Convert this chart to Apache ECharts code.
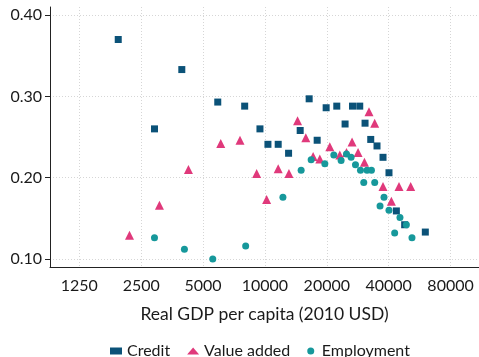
<!DOCTYPE html>
<html>
<head>
<meta charset="utf-8">
<script src="https://cdn.jsdelivr.net/npm/echarts@6/dist/echarts.min.js"></script>
<style>
html,body{margin:0;padding:0;background:#fff;}
#chart{width:479px;height:357px;}
</style>
</head>
<body>
<div id="chart"></div>
<script>
// Real GDP per capita (2010 USD) and shares
const creditGdp = [1933, 2901, 3940, 5894, 7969, 9456, 10340, 11600, 13030, 14840, 16410, 17950, 19850, 22360, 24540, 26660, 28920, 30690, 32710, 35090, 37530, 40130, 43590, 47830, 60290];
const creditVal = [0.370, 0.260, 0.333, 0.293, 0.288, 0.260, 0.241, 0.241, 0.230, 0.258, 0.297, 0.246, 0.286, 0.288, 0.266, 0.288, 0.288, 0.267, 0.247, 0.239, 0.225, 0.206, 0.159, 0.142, 0.133];

const valueAddedGdp = [2193, 3067, 4243, 6094, 7562, 9113, 10190, 11600, 13080, 14410, 15810, 17160, 18490, 20680, 23130, 24930, 26540, 28380, 30480, 32090, 34200, 37530, 41230, 44880, 51160];
const valueAddedVal = [0.129, 0.166, 0.210, 0.242, 0.246, 0.205, 0.173, 0.211, 0.205, 0.270, 0.249, 0.226, 0.223, 0.238, 0.228, 0.231, 0.244, 0.231, 0.219, 0.281, 0.267, 0.189, 0.171, 0.189, 0.189];

const employmentGdp = [2901, 4057, 5573, 8058, 12230, 15000, 16780, 19560, 21630, 23470, 24930, 26250, 27570, 29160, 30250, 31390, 32970, 34200, 36300, 37950, 40130, 42770, 45380, 48750, 51920];
const employmentVal = [0.126, 0.112, 0.100, 0.116, 0.176, 0.209, 0.222, 0.217, 0.228, 0.221, 0.229, 0.225, 0.216, 0.209, 0.194, 0.209, 0.209, 0.194, 0.165, 0.176, 0.160, 0.132, 0.151, 0.142, 0.126];

const xTicks = [1250, 2500, 5000, 10000, 20000, 40000, 80000];
const yTicks = [0.10, 0.20, 0.30, 0.40];
const seriesNames = ['Credit', 'Value added', 'Employment'];
const xRange = [900, 110000];
const yRange = [0.09, 0.41];

const FONT = 'Lato';
const TXT = '#1a1a1a';
const colors = ['#0b5278', '#e0397b', '#16989b'];

function pairs(xs, ys) { return xs.map((x, i) => [Math.log2(x), ys[i]]); }

const chart = echarts.init(document.getElementById('chart'), null, {renderer: 'canvas'});
chart.setOption({
  animation: false,
  textStyle: {fontFamily: FONT},
  grid: {left: 50, right: 0, top: 7, bottom: 90, containLabel: false},
  legend: {
    data: seriesNames.map((n, i) => ({name: n, icon: ['rect', 'triangle', 'circle'][i]})),
    left: 105, top: 338,
    itemWidth: 12, itemHeight: 7, itemGap: 17,
    textStyle: {fontFamily: FONT, fontSize: 16, color: TXT}
  },
  xAxis: {
    type: 'value',
    min: Math.log2(xRange[0]), max: Math.log2(xRange[1]),
    name: 'Real GDP per capita (2010 USD)',
    nameLocation: 'middle', nameGap: 38,
    nameTextStyle: {fontFamily: FONT, fontSize: 17.5, color: TXT},
    axisLine: {show: true, onZero: false, lineStyle: {color: '#222', width: 1}},
    axisTick: {show: false, customValues: xTicks.map(v => Math.log2(v))},
    axisLabel: {
      customValues: xTicks.map(v => Math.log2(v)),
      formatter: v => String(Math.round(Math.pow(2, v))),
      fontFamily: FONT, fontSize: 16, color: TXT, margin: 11
    },
    splitLine: {show: true, lineStyle: {color: '#d6d6d6', type: [1, 2], width: 1}}
  },
  yAxis: {
    type: 'value',
    min: yRange[0], max: yRange[1],
    axisLine: {show: true, lineStyle: {color: '#222', width: 1}},
    axisTick: {show: true, length: 5, lineStyle: {color: '#222'}, customValues: yTicks},
    axisLabel: {
      customValues: yTicks,
      formatter: v => v.toFixed(2),
      fontFamily: FONT, fontSize: 16, color: TXT, margin: 8
    },
    splitLine: {show: true, lineStyle: {color: '#d6d6d6', type: [1, 2], width: 1}}
  },
  series: [
    {name: seriesNames[0], type: 'scatter', symbol: 'rect', symbolSize: 7, data: pairs(creditGdp, creditVal), itemStyle: {color: colors[0], opacity: 1}},
    {name: seriesNames[1], type: 'scatter', symbol: 'triangle', symbolSize: 9, data: pairs(valueAddedGdp, valueAddedVal), itemStyle: {color: colors[1], opacity: 1}},
    {name: seriesNames[2], type: 'scatter', symbol: 'circle', symbolSize: 7, data: pairs(employmentGdp, employmentVal), itemStyle: {color: colors[2], opacity: 1}}
  ]
});
</script>
</body>
</html>
